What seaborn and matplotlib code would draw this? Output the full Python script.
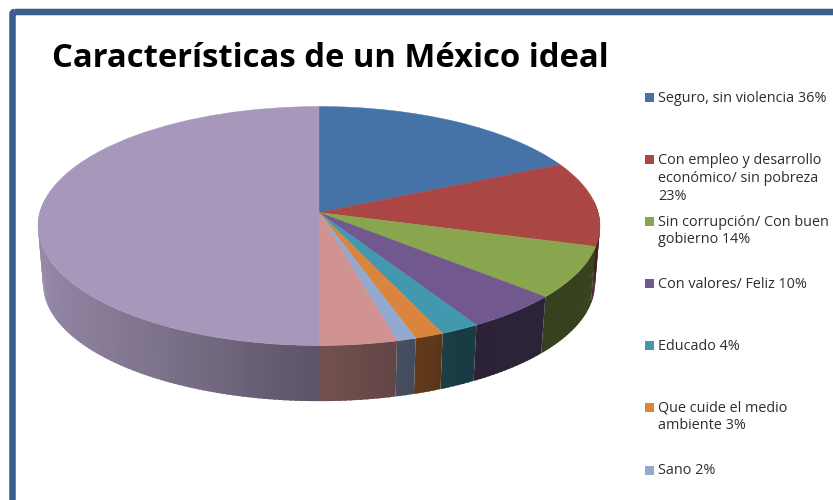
import numpy as np
import matplotlib
matplotlib.use("Agg")
import matplotlib.pyplot as plt
import seaborn as sns
from matplotlib.collections import PolyCollection
from matplotlib.patches import FancyBboxPatch, Rectangle
from matplotlib.path import Path
from matplotlib.transforms import Transform

# Survey shares; the last two slices have no legend entry
legend_labels = [
    "Seguro, sin violencia 36%",
    "Con empleo y desarrollo\neconómico/ sin pobreza\n23%",
    "Sin corrupción/ Con buen\ngobierno 14%",
    "Con valores/ Feliz 10%",
    "Educado 4%",
    "Que cuide el medio\nambiente 3%",
    "Sano 2%",
]
legend_centres = [98.0, 178.5, 231.0, 284.0, 346.0, 417.0, 471.0]
slice_values = [36, 23, 14, 10, 4, 3, 2, 8, 100]
slice_colors = ["#4572A7", "#AA4643", "#89A54E", "#71588F", "#4198AF",
                "#DB843D", "#93A9CF", "#D19392", "#A798BB"]
title_text = "Características de un México ideal"

# Canvas layout in pixels
APEX = (319.0, 212.5)
RX, RY, TILT = 279.2, 118.0, 0.113
DEPTH, BOTTOM_SCALE = 58.0, 0.982
FRAME_COLOR = "#3B608F"


def project(u, v, scale=1.0, drop=0.0):
    """Perspective view of the unit disc, returned in canvas pixels."""
    w = 1 + TILT * v
    return APEX[0] + scale * RX * u / w, APEX[1] - scale * RY * v / w + drop


class DiscView(Transform):
    input_dims = output_dims = 2
    is_affine = False

    def transform_non_affine(self, values):
        values = np.asarray(values, dtype=float)
        x, y = project(values[:, 0], values[:, 1])
        return np.column_stack([x, y])

    def transform_path_non_affine(self, path):
        return Path(self.transform_non_affine(path.vertices), path.codes)


sns.set_theme(style="white")
plt.rcParams["font.family"] = ["Open Sans", "DejaVu Sans"]

fig = plt.figure(figsize=(8.33, 5.0), dpi=100, facecolor="white")
ax = fig.add_axes([0, 0, 1, 1])

# Top face of the pie
wedges, _ = ax.pie(slice_values, colors=slice_colors, startangle=90,
                   counterclock=False, normalize=True,
                   wedgeprops={"linewidth": 0.3})
ax.set_aspect("auto")
ax.set_xlim(0, 833)
ax.set_ylim(500, 0)
ax.set_axis_off()
view = DiscView() + ax.transData
for wedge, color in zip(wedges, slice_colors):
    wedge.set_transform(view)
    wedge.set_edgecolor(color)
    wedge.set_zorder(3)

# Front side wall: overlapping facets per slice, shaded from left to right.
# Facets are walked from the right rim round to the left rim.
facets, facet_colors = [], []
edges = np.cumsum([0] + slice_values) / sum(slice_values) * 2 * np.pi
step = np.radians(1.0)
for start, stop, color in zip(edges[:-1], edges[1:], slice_colors):
    steps = max(2, int((stop - start) / step))
    angles = np.linspace(start, stop, steps + 1)
    base = np.array(matplotlib.colors.to_rgb(color))
    for a0, a1 in zip(angles[:-1], angles[1:]):
        if np.cos((a0 + a1) / 2) > 0.1:
            continue
        a2 = min(a1 + step * 0.6, stop)
        u0, v0, u1, v1 = np.sin(a0), np.cos(a0), np.sin(a2), np.cos(a2)
        facets.append([project(u0, v0), project(u1, v1),
                       project(u1, v1, BOTTOM_SCALE, DEPTH),
                       project(u0, v0, BOTTOM_SCALE, DEPTH)])
        shade = np.interp((np.sin(a0) + np.sin(a1)) / 2,
                          [-1, -0.5, 0, 0.28, 0.45, 1],
                          [0.90, 0.74, 0.55, 0.46, 0.39, 0.40])
        facet_colors.append(base * shade)
ax.add_collection(PolyCollection(facets, facecolors=facet_colors,
                                 edgecolors="none", linewidths=0, zorder=2))

# Slide frame along the top and left edges
ax.add_patch(FancyBboxPatch((12.5, 12), 900, 600, boxstyle="round,pad=0,rounding_size=2",
                            fill=False, edgecolor=FRAME_COLOR, linewidth=4.7, zorder=4))

ax.text(52, 67, title_text, fontsize=23.6, fontweight="bold", color="black",
        ha="left", va="baseline", zorder=5)

# Legend entries
for label, centre, color in zip(legend_labels, legend_centres, slice_colors):
    lines = label.count("\n") + 1
    first_line = centre - 1 - (lines - 1) * 17.7 / 2
    ax.add_patch(Rectangle((645.5, first_line - 4.5), 9, 9, facecolor=color,
                           edgecolor="none", zorder=5))
    ax.text(658, centre, label, fontsize=10.4, color="#2E2E2E", ha="left",
            va="center", linespacing=1.24, zorder=5)

fig.savefig("out.png", dpi=100, facecolor="white")
